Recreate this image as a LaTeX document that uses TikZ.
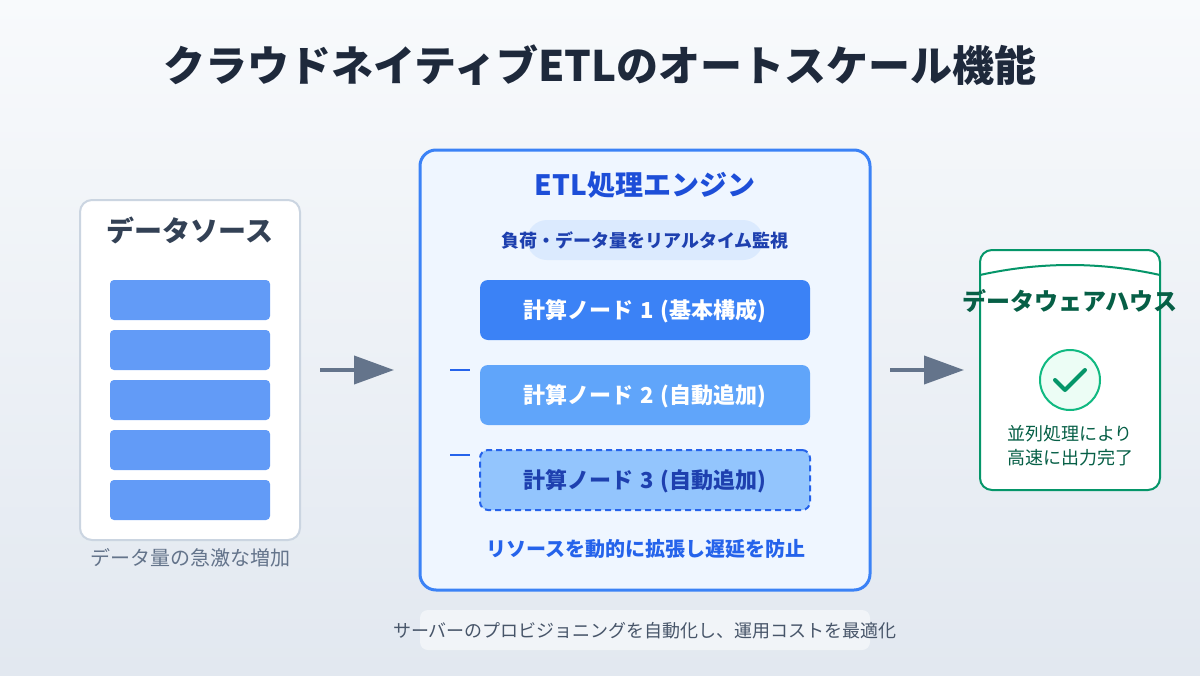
\documentclass[tikz,border=0pt]{standalone}
\usepackage{fontspec}
\setmainfont{Noto Sans CJK JP}
\usetikzlibrary{arrows.meta,calc}
\definecolor{bgtop}{HTML}{F8FAFC}
\definecolor{bgbot}{HTML}{E2E8F0}
\definecolor{slateA}{HTML}{1E293B}
\definecolor{slateB}{HTML}{334155}
\definecolor{slateC}{HTML}{64748B}
\definecolor{slateD}{HTML}{475569}
\definecolor{lineS}{HTML}{CBD5E1}
\definecolor{blueA}{HTML}{3B82F6}
\definecolor{blueB}{HTML}{60A5FA}
\definecolor{blueC}{HTML}{93C5FD}
\definecolor{blueD}{HTML}{2563EB}
\definecolor{blueE}{HTML}{1D4ED8}
\definecolor{blueF}{HTML}{1E40AF}
\definecolor{paleA}{HTML}{EFF6FF}
\definecolor{paleB}{HTML}{DBEAFE}
\definecolor{greenA}{HTML}{059669}
\definecolor{greenB}{HTML}{10B981}
\definecolor{greenC}{HTML}{ECFDF5}
\definecolor{greenD}{HTML}{065F46}
\newcommand{\pxf}[1]{\fontsize{\dimexpr#1pt*3/4\relax}{\dimexpr#1pt*9/10\relax}\selectfont}
\newcommand{\wsp}{\hspace{1.3pt} }
\newcommand{\lowr}[1]{\raisebox{-1pt}[\height][\depth]{#1}}
\tikzset{
  x=0.75pt,y=-0.75pt,
  base/.style={rectangle,inner sep=0pt,outer sep=0pt,align=center},
  sized/.style 2 args={base,minimum width=#1*0.75pt,minimum height=#2*0.75pt},
  txt/.style={base,text=#1},
  bar/.style={sized={160}{40},rounded corners=3pt,fill=blueA,fill opacity=0.8},
  calc/.style={sized={330}{60},rounded corners=6pt},
  flow/.style={draw=slateC,line width=3pt,-{Triangle[length=30pt,width=21pt]}},
  tick/.style={draw=blueD,line width=1.5pt},
}
\begin{document}
\begin{tikzpicture}
\useasboundingbox (0,0) rectangle (1200,675);
\shade[top color=bgtop,bottom color=bgbot] (0,0) rectangle (1200,675);
\node[txt=slateA,font=\bfseries\pxf{42}] (title) at (600,65) {クラウドネイティブETLのオートスケール機能};

% source
\node[sized={220}{340},draw=lineS,line width=1.5pt,fill=white,rounded corners=9pt] (src) at (190,370) {};
\node[txt=slateB,font=\bfseries\pxf{28}] (srct) at (190,230) {データソース};
\node[bar] (b1) at (190,300) {};
\node[bar] (b2) at (190,350) {};
\node[bar] (b3) at (190,400) {};
\node[bar] (b4) at (190,450) {};
\node[bar] (b5) at (190,500) {};
\node[txt=slateC,font=\pxf{20}] (srcc) at (190,558) {データ量の急激な増加};

% arrows
\coordinate (a1s) at (320,370);
\coordinate (a1e) at (394,370);
\draw[flow] (a1s) -- (a1e);
\coordinate (a2s) at (890,370);
\coordinate (a2e) at (964,370);
\draw[flow] (a2s) -- (a2e);

% engine
\node[sized={450}{440},draw=blueA,line width=2.25pt,fill=paleA,rounded corners=12pt] (eng) at (645,370) {};
\node[txt=blueE,font=\bfseries\pxf{28}] (engt) at (645,185) {ETL処理エンジン};
\node[sized={236}{40},fill=paleB,rounded corners=15pt] (pill) at (645,240) {};
\node[txt=blueF,font=\bfseries\pxf{18}] (pillt) at (645,240) {負荷・データ量をリアルタイム監視};
\node[calc,fill=blueA,text=white,font=\bfseries\pxf{22}] (n1) at (645,310) {\lowr{計算ノード\wsp 1\wsp (基本構成)}};
\node[calc,fill=blueB,text=white,font=\bfseries\pxf{22}] (n2) at (645,395) {\lowr{計算ノード\wsp 2\wsp (自動追加)}};
\node[calc,fill=blueC,draw=blueD,line width=1.5pt,dash pattern=on 4.5pt off 3pt,text=blueF,font=\bfseries\pxf{22}] (n3) at (645,480) {\lowr{計算ノード\wsp 3\wsp (自動追加)}};
\coordinate (t1s) at (450,370);
\coordinate (t1e) at (470,370);
\draw[tick] (t1s) -- (t1e);
\coordinate (t2s) at (450,455);
\coordinate (t2e) at (470,455);
\draw[tick] (t2s) -- (t2e);
\node[txt=blueD,font=\bfseries\pxf{20}] (engc) at (645.5,548.5) {リソースを動的に拡張し遅延を防止};

% footer
\node[sized={450}{40},fill=white,fill opacity=0.5,rounded corners=6pt] (foot) at (645,630) {};
\node[txt=slateD,font=\pxf{18}] (foott) at (645,630.5) {サーバーのプロビジョニングを自動化し、運用コストを最適化};

% warehouse
\node[sized={180}{240},draw=greenA,line width=1.5pt,fill=white,rounded corners=9pt] (dw) at (1070,370) {};
\coordinate (cl) at (980,275);
\coordinate (cr) at (1160,275);
\coordinate (cc) at (1070,255);
\draw[draw=greenA,line width=1.5pt] (cl) .. controls ($(cl)!0.667!(cc)$) and ($(cr)!0.667!(cc)$) .. (cr);
\node[txt=greenD,font=\bfseries\pxf{24}] (dwt) at (1070,301) {データウェアハウス};
\node[base,circle,minimum size=60*0.75pt,draw=greenB,line width=1.5pt,fill=greenC] (ok) at (1070,380) {};
\coordinate (k1) at (1055,380);
\coordinate (k2) at (1065,390);
\coordinate (k3) at (1085,370);
\draw[greenA,line width=3pt,line cap=round,line join=round] (k1) -- (k2) -- (k3);
\node[txt=greenD,font=\pxf{18}] (dw1) at (1070,433.5) {並列処理により};
\node[txt=greenD,font=\pxf{18}] (dw2) at (1070,457.5) {高速に出力完了};
\end{tikzpicture}
\end{document}
